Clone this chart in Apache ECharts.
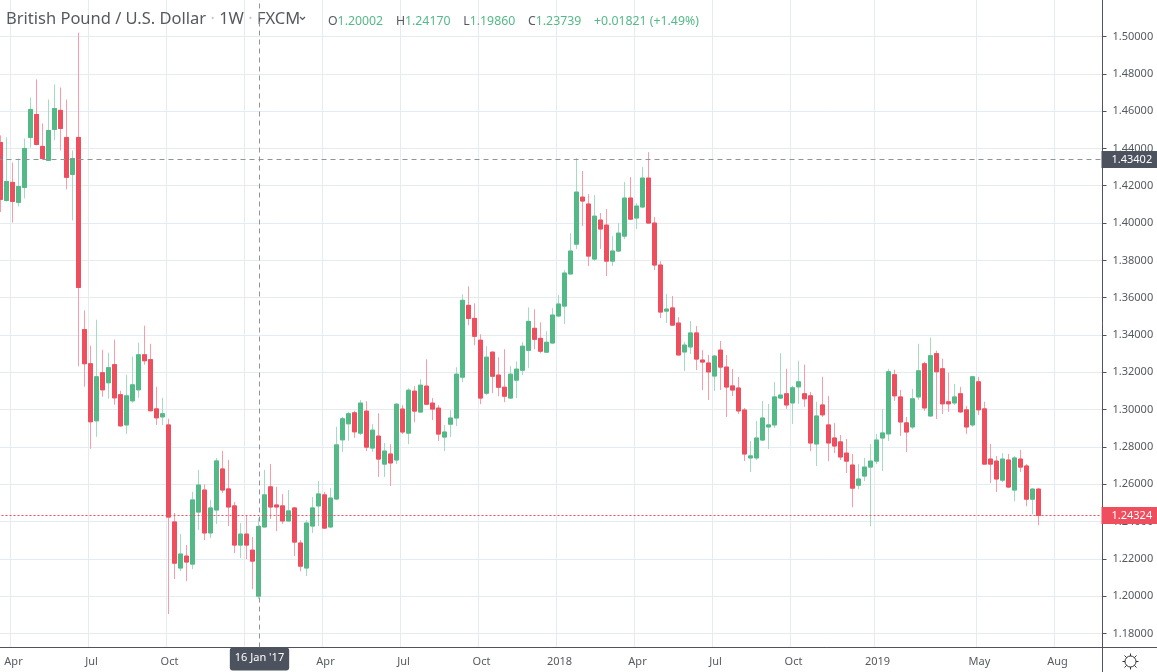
<!DOCTYPE html>
<html>
<head>
<meta charset="utf-8">
<title>British Pound / U.S. Dollar</title>
<script src="https://cdn.jsdelivr.net/npm/echarts@6/dist/echarts.min.js"></script>
<style>
html, body { margin: 0; padding: 0; background: #fff; }
#chart { width: 1157px; height: 672px; }
</style>
</head>
<body>
<div id="chart"></div>
<script>
/* weekly candles, first one is the week of 21 Mar 2016 */
var firstWeek = Date.UTC(2016, 2, 21);
var weekCount = 184; // 174 candles + empty weeks on the right

var opens = [
    1.4432, 1.4121, 1.4218, 1.4111, 1.4191, 1.4459, 1.4582, 1.4411, 1.4336, 1.4502,
    1.4604, 1.4459, 1.4261, 1.4459, 1.3429, 1.3246, 1.2940, 1.3198, 1.3144, 1.3241,
    1.3080, 1.2918, 1.3047, 1.3106, 1.3294, 1.3268, 1.3004, 1.2961, 1.2918, 1.2398,
    1.2151, 1.2215, 1.2172, 1.2451, 1.2569, 1.2339, 1.2462, 1.2682, 1.2575, 1.2484,
    1.2274, 1.2333, 1.2247, 1.20002, 1.2371, 1.2586, 1.2489, 1.2484, 1.2403, 1.2473,
    1.2285, 1.2151, 1.2376, 1.2484, 1.2543, 1.2371, 1.2521, 1.2838, 1.2924, 1.2983,
    1.2874, 1.2992, 1.2794, 1.2858, 1.2708, 1.2762, 1.2730, 1.3003, 1.2874, 1.3099,
    1.2987, 1.3126, 1.3035, 1.3008, 1.2853, 1.2922, 1.2955, 1.3174, 1.3559, 1.3489,
    1.3372, 1.3088, 1.3308, 1.3185, 1.3120, 1.3062, 1.3158, 1.3211, 1.3318, 1.3436,
    1.3382, 1.3308, 1.3357, 1.3502, 1.3555, 1.3727, 1.3887, 1.4139, 1.4102, 1.3807,
    1.4016, 1.3989, 1.3796, 1.3850, 1.3930, 1.4134, 1.4027, 1.4086, 1.4241, 1.4000,
    1.3775, 1.3528, 1.3545, 1.3464, 1.3309, 1.3336, 1.3411, 1.3266, 1.3250, 1.3180,
    1.3319, 1.3228, 1.3127, 1.3116, 1.2998, 1.2741, 1.2741, 1.2837, 1.2907, 1.2918,
    1.3062, 1.3085, 1.3036, 1.3122, 1.3085, 1.3074, 1.2816, 1.3025, 1.2918, 1.2848,
    1.2827, 1.2767, 1.2703, 1.2595, 1.2644, 1.2692, 1.2724, 1.2848, 1.2870, 1.3187,
    1.3068, 1.2929, 1.2907, 1.3068, 1.3246, 1.2966, 1.3300, 1.3219, 1.3042, 1.3036,
    1.3085, 1.2999, 1.2918, 1.3149, 1.3004, 1.2735, 1.2724, 1.2622, 1.2730, 1.2569,
    1.2735, 1.2698, 1.2520, 1.2574
];
var highs = [
    1.4470, 1.4459, 1.4325, 1.4346, 1.4453, 1.4673, 1.4770, 1.4534, 1.4662, 1.4743,
    1.4727, 1.4662, 1.4389, 1.5021, 1.3532, 1.3343, 1.3482, 1.3321, 1.3305, 1.3375,
    1.3101, 1.3187, 1.3284, 1.3359, 1.3450, 1.3353, 1.3123, 1.3063, 1.2951, 1.2446,
    1.2333, 1.2274, 1.2559, 1.2677, 1.2600, 1.2516, 1.2741, 1.2779, 1.2731, 1.2505,
    1.2392, 1.2435, 1.2317, 1.24170, 1.2677, 1.2709, 1.2586, 1.2548, 1.2569, 1.2478,
    1.2301, 1.2408, 1.2532, 1.2618, 1.2559, 1.2580, 1.2908, 1.2961, 1.2988, 1.2994,
    1.3051, 1.3045, 1.2922, 1.2981, 1.2821, 1.2815, 1.3035, 1.3024, 1.3115, 1.3126,
    1.3163, 1.3270, 1.3062, 1.3024, 1.2917, 1.2997, 1.3227, 1.3618, 1.3661, 1.3570,
    1.3404, 1.3340, 1.3313, 1.3281, 1.3324, 1.3233, 1.3259, 1.3361, 1.3548, 1.3538,
    1.3468, 1.3420, 1.3545, 1.3614, 1.3748, 1.3946, 1.4348, 1.4279, 1.4155, 1.4150,
    1.4054, 1.4075, 1.3930, 1.4000, 1.4220, 1.4246, 1.4107, 1.4300, 1.4380, 1.4032,
    1.3796, 1.3620, 1.3609, 1.3496, 1.3362, 1.3475, 1.3448, 1.3319, 1.3293, 1.3293,
    1.3368, 1.3293, 1.3218, 1.3175, 1.3009, 1.2832, 1.2939, 1.3046, 1.3030, 1.3148,
    1.3303, 1.3219, 1.3128, 1.3262, 1.3241, 1.3095, 1.3042, 1.3176, 1.3074, 1.2929,
    1.2864, 1.2843, 1.2762, 1.2708, 1.2741, 1.2816, 1.2870, 1.3004, 1.3219, 1.3214,
    1.3106, 1.2961, 1.3111, 1.3353, 1.3257, 1.3386, 1.3316, 1.3273, 1.3198, 1.3138,
    1.3122, 1.3020, 1.3181, 1.3176, 1.3042, 1.2816, 1.2751, 1.2767, 1.2762, 1.2751,
    1.2784, 1.2708, 1.2579, 1.2579
];
var lows = [
    1.4059, 1.4115, 1.4003, 1.4089, 1.4132, 1.4405, 1.4416, 1.4341, 1.4332, 1.4443,
    1.4389, 1.4180, 1.4014, 1.3232, 1.3123, 1.2790, 1.2854, 1.3069, 1.3058, 1.3026,
    1.2908, 1.2870, 1.3037, 1.3063, 1.3241, 1.2990, 1.2918, 1.2918, 1.1904, 1.2092,
    1.2134, 1.2081, 1.2145, 1.2355, 1.2301, 1.2312, 1.2387, 1.2553, 1.2376, 1.2231,
    1.2204, 1.2199, 1.2038, 1.19860, 1.2368, 1.2414, 1.2349, 1.2387, 1.2400, 1.2215,
    1.2134, 1.2108, 1.2339, 1.2376, 1.2360, 1.2365, 1.2516, 1.2773, 1.2833, 1.2849,
    1.2864, 1.2778, 1.2773, 1.2639, 1.2639, 1.2591, 1.2708, 1.2869, 1.2815, 1.2933,
    1.2985, 1.3024, 1.2944, 1.2832, 1.2778, 1.2853, 1.2912, 1.3147, 1.3452, 1.3345,
    1.3029, 1.3078, 1.3088, 1.3072, 1.3040, 1.3060, 1.3062, 1.3185, 1.3222, 1.3324,
    1.3302, 1.3305, 1.3352, 1.3496, 1.3459, 1.3725, 1.3861, 1.3984, 1.3770, 1.3796,
    1.3861, 1.3716, 1.3770, 1.3845, 1.3914, 1.4016, 1.3968, 1.4080, 1.3998, 1.3748,
    1.3491, 1.3464, 1.3451, 1.3291, 1.3207, 1.3298, 1.3212, 1.3105, 1.3052, 1.3100,
    1.3105, 1.2960, 1.3073, 1.2977, 1.2725, 1.2666, 1.2730, 1.2832, 1.2789, 1.2902,
    1.3057, 1.3004, 1.2923, 1.3031, 1.3015, 1.2778, 1.2698, 1.2961, 1.2724, 1.2767,
    1.2730, 1.2660, 1.2477, 1.2574, 1.2617, 1.2375, 1.2708, 1.2671, 1.2832, 1.3047,
    1.2859, 1.2773, 1.2896, 1.3052, 1.2993, 1.2961, 1.2950, 1.2977, 1.2988, 1.3025,
    1.2982, 1.2870, 1.2907, 1.2972, 1.2706, 1.2606, 1.2558, 1.2612, 1.2579, 1.2509,
    1.2665, 1.2482, 1.2439, 1.2380
];
var closes = [
    1.4127, 1.4223, 1.4116, 1.4196, 1.4400, 1.4609, 1.4421, 1.4346, 1.4496, 1.4614,
    1.4507, 1.4245, 1.4346, 1.3655, 1.3246, 1.2935, 1.3176, 1.3106, 1.3225, 1.3063,
    1.2913, 1.3074, 1.3133, 1.3294, 1.3262, 1.2994, 1.2956, 1.2978, 1.2424, 1.2177,
    1.2226, 1.2183, 1.2516, 1.2596, 1.2339, 1.2473, 1.2725, 1.2569, 1.2478, 1.2274,
    1.2333, 1.2274, 1.2188, 1.23739, 1.2543, 1.2478, 1.2478, 1.2403, 1.2457, 1.2290,
    1.2161, 1.2392, 1.2473, 1.2548, 1.2365, 1.2526, 1.2811, 1.2951, 1.2978, 1.2881,
    1.3035, 1.2799, 1.2890, 1.2735, 1.2778, 1.2714, 1.3029, 1.2880, 1.3104, 1.2992,
    1.3131, 1.3029, 1.3003, 1.2869, 1.2880, 1.2955, 1.3190, 1.3586, 1.3489, 1.3393,
    1.3062, 1.3281, 1.3179, 1.3120, 1.3072, 1.3190, 1.3217, 1.3340, 1.3473, 1.3377,
    1.3313, 1.3361, 1.3507, 1.3566, 1.3732, 1.3850, 1.4166, 1.4118, 1.3823, 1.4037,
    1.3968, 1.3796, 1.3850, 1.3946, 1.4134, 1.4021, 1.4091, 1.4241, 1.4000, 1.3775,
    1.3523, 1.3539, 1.3453, 1.3293, 1.3346, 1.3411, 1.3271, 1.3255, 1.3202, 1.3287,
    1.3228, 1.3121, 1.3105, 1.2993, 1.2762, 1.2752, 1.2848, 1.2955, 1.2918, 1.3068,
    1.3078, 1.3025, 1.3117, 1.3149, 1.3058, 1.2821, 1.2966, 1.2972, 1.2821, 1.2805,
    1.2746, 1.2724, 1.2579, 1.2628, 1.2692, 1.2724, 1.2837, 1.2875, 1.3203, 1.3074,
    1.2934, 1.2880, 1.3058, 1.3208, 1.3009, 1.3289, 1.3203, 1.3031, 1.3031, 1.3068,
    1.2988, 1.2907, 1.3176, 1.2999, 1.2708, 1.2708, 1.2628, 1.2735, 1.2585, 1.2741,
    1.2692, 1.2520, 1.2574, 1.24324
];

/* x axis labels */
var tickDates = ['2016-04-04', '2016-07-04', '2016-10-03', '2017-01-02', '2017-04-03', '2017-07-03', '2017-10-02',
    '2018-01-01', '2018-04-02', '2018-07-02', '2018-10-01', '2019-01-07', '2019-05-06', '2019-08-05'];
var tickLabels = ['Apr', 'Jul', 'Oct', '2017', 'Apr', 'Jul', 'Oct', '2018', 'Apr', 'Jul', 'Oct', '2019', 'May', 'Aug'];
var priceTicks = [1.18, 1.20, 1.22, 1.24, 1.26, 1.28, 1.30, 1.32, 1.34, 1.36, 1.38, 1.40, 1.42, 1.44, 1.46, 1.48, 1.50];

var crossDate = '2017-01-16';
var crossDateLabel = "16 Jan '17";
var crossPrice = 1.43402;
var lastPrice = 1.24324;

var uiFont = '"Noto Sans", sans-serif';
var gridColor = '#e4ebf1';
var axisColor = '#50535e';
var textColor = '#555a60';
var tagColor = '#4c525e';
var upColor = '#53b987';
var downColor = '#ee4e5d';
var crossColor = '#8f949b';

var weeks = [];
for (var w = 0; w < weekCount; w++) {
    weeks.push(new Date(firstWeek + w * 7 * 864e5).toISOString().slice(0, 10));
}

// wicks get the lighter colour so the full range goes in one series,
// bodies go on top in a second one with high/low cut to the body
var wickData = opens.map(function (o, i) {
    return [o, closes[i], lows[i], highs[i]];
});
var bodyData = opens.map(function (o, i) {
    return [o, closes[i], Math.min(o, closes[i]), Math.max(o, closes[i])];
});

var isTick = function (index, value) {
    return tickDates.indexOf(value) >= 0;
};

// price tag on the right of the axis
var priceTag = function (value, background) {
    return {
        show: true,
        position: 'end',
        distance: 0,
        formatter: value.toFixed(5),
        backgroundColor: background,
        color: '#fff',
        fontFamily: uiFont, fontSize: 11,
        padding: [3, 8, 3, 10]
    };
};

var yMin = 1.1725, yMax = 1.51956;

var myChart = echarts.init(document.getElementById('chart'));
var options = {
    animation: false,
    title: [
        {
            text: 'British Pound / U.S. Dollar {s|·} 1W {s|·} FXCM',
            left: 1, top: 6,
            textStyle: {
                fontFamily: uiFont, fontSize: 16.5, fontWeight: 'normal', color: '#555a60',
                rich: {
                    s: {fontFamily: uiFont, fontSize: 16.5, fontWeight: 'normal', color: '#c4c8cc'}
                }
            }
        },
        {
            text: '{g|O}{v|1.20002}    {g|H}{v|1.24170}    {g|L}{v|1.19860}    {g|C}{v|1.23739}    {v|+0.01821 (+1.49%)}',
            left: 323, top: 10,
            textStyle: {
                fontFamily: uiFont, fontSize: 12.3, fontWeight: 'normal',
                rich: {
                    g: {fontFamily: uiFont, fontSize: 12.3, fontWeight: 'normal', color: '#555a60'},
                    v: {fontFamily: uiFont, fontSize: 12.3, fontWeight: 'normal', color: upColor}
                }
            }
        }
    ],
    // grid 0 carries the visible axes, grid 1 the candles: the lines sit 1px right of the candle centres
    grid: [
        {left: -1.5, top: 0, width: 6 * weekCount, height: 647.5, outerBoundsMode: 'none'},
        {left: -2.5, top: 0, width: 6 * weekCount, height: 647.5, outerBoundsMode: 'none'}
    ],
    xAxis: [
        {
            type: 'category',
            gridIndex: 0,
            data: weeks,
            axisLine: {lineStyle: {color: axisColor, width: 1}},
            axisTick: {alignWithLabel: true, length: 4, interval: isTick, lineStyle: {color: axisColor}},
            splitLine: {show: true, interval: isTick, lineStyle: {color: gridColor, width: 1}},
            axisLabel: {
                interval: isTick,
                margin: 9,
                hideOverlap: false,
                fontFamily: uiFont, fontSize: 11, color: textColor,
                formatter: function (value) {
                    return tickLabels[tickDates.indexOf(value)];
                }
            },
            axisPointer: {
                show: true,
                status: 'show',
                value: weeks.indexOf(crossDate),
                triggerTooltip: false,
                lineStyle: {color: crossColor, type: [5, 4], width: 1},
                label: {
                    show: true,
                    formatter: crossDateLabel,
                    backgroundColor: tagColor,
                    color: '#fff',
                    fontFamily: uiFont, fontSize: 11,
                    padding: [5, 5, 7, 5],
                    margin: 0
                }
            }
        },
        {type: 'category', gridIndex: 1, data: weeks, show: false}
    ],
    yAxis: [
        {
            type: 'value',
            gridIndex: 0,
            position: 'right',
            min: yMin, max: yMax,
            axisLine: {show: true, lineStyle: {color: axisColor, width: 1}},
            axisTick: {show: true, length: 4, customValues: priceTicks, lineStyle: {color: axisColor}},
            splitLine: {show: true, lineStyle: {color: gridColor, width: 1}},
            axisLabel: {
                customValues: priceTicks,
                margin: 10,
                fontFamily: uiFont, fontSize: 11, color: textColor,
                formatter: function (value) {
                    return value.toFixed(5);
                }
            }
        },
        {type: 'value', gridIndex: 1, min: yMin, max: yMax, show: false}
    ],
    series: [
        {
            name: 'wicks',
            type: 'candlestick',
            xAxisIndex: 1, yAxisIndex: 1,
            barWidth: 4,
            clip: true,
            silent: true,
            data: wickData,
            itemStyle: {
                color: '#a3dcc0', color0: '#fa9ca7',
                borderColor: '#a3dcc0', borderColor0: '#fa9ca7',
                borderWidth: 1
            }
        },
        {
            name: 'bodies',
            type: 'candlestick',
            xAxisIndex: 1, yAxisIndex: 1,
            barWidth: 4,
            clip: true,
            silent: true,
            data: bodyData,
            itemStyle: {
                color: upColor, color0: downColor,
                borderColor: upColor, borderColor0: downColor,
                borderWidth: 1
            },
            markLine: {
                silent: true,
                symbol: 'none',
                precision: 5,
                animation: false,
                data: [
                    {
                        yAxis: crossPrice,
                        lineStyle: {color: crossColor, type: [5, 4], width: 1},
                        label: priceTag(crossPrice, tagColor)
                    },
                    {
                        yAxis: lastPrice,
                        lineStyle: {color: downColor, type: [2, 2], width: 1},
                        label: priceTag(lastPrice, downColor)
                    }
                ]
            }
        }
    ],
    graphic: [
        {type: 'line', shape: {x1: 1102, y1: 647.5, x2: 1157, y2: 647.5}, style: {stroke: axisColor, lineWidth: 1}},
        {type: 'line', shape: {x1: 1102.5, y1: 647, x2: 1102.5, y2: 672}, style: {stroke: axisColor, lineWidth: 1}},
        {type: 'polyline', shape: {points: [[300, 17], [302.5, 19.5], [305, 17]]}, style: {stroke: '#555a60', lineWidth: 1.2, fill: null}},
        {
            type: 'group',
            x: 1130.5, y: 661.5,
            children: [
                {type: 'line', shape: {x1: -8, y1: 0, x2: 8, y2: 0}, style: {stroke: '#2f3237', lineWidth: 1}},
                {type: 'line', shape: {x1: 0, y1: -8, x2: 0, y2: 8}, style: {stroke: '#2f3237', lineWidth: 1}},
                {type: 'line', shape: {x1: -6, y1: -6, x2: 6, y2: 6}, style: {stroke: '#2f3237', lineWidth: 1}},
                {type: 'line', shape: {x1: -6, y1: 6, x2: 6, y2: -6}, style: {stroke: '#2f3237', lineWidth: 1}},
                {type: 'circle', z: 10, shape: {cx: 0, cy: 0, r: 5.5}, style: {fill: '#fff', stroke: '#2f3237', lineWidth: 1}}
            ]
        }
    ]
};
myChart.setOption(options);
</script>
</body>
</html>
